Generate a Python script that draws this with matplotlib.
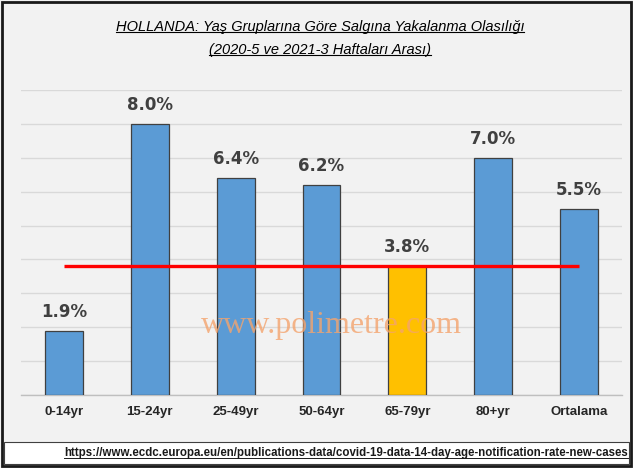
import matplotlib
matplotlib.use("Agg")
import matplotlib.pyplot as plt
from matplotlib.patches import Rectangle
from matplotlib.lines import Line2D

categories = ["0-14yr", "15-24yr", "25-49yr", "50-64yr", "65-79yr", "80+yr", "Ortalama"]
values = [1.9, 8.0, 6.4, 6.2, 3.8, 7.0, 5.5]
labels = ["1.9%", "8.0%", "6.4%", "6.2%", "3.8%", "7.0%", "5.5%"]
ref_line = 3.8
highlight = "65-79yr"

title1 = "HOLLANDA: Yaş Gruplarına Göre Salgına Yakalanma Olasılığı"
title2 = "(2020-5 ve 2021-3 Haftaları Arası)"
source = "https://www.ecdc.europa.eu/en/publications-data/covid-19-data-14-day-age-notification-rate-new-cases"
watermark = "www.polimetre.com"

W, H = 633, 468
fig = plt.figure(figsize=(W / 100, H / 100), dpi=100)
fig.patch.set_facecolor("#f2f2f2")

ax = fig.add_axes([21 / W, (H - 395) / H, (622 - 21) / W, (395 - 90) / H])
ax.set_facecolor("#f2f2f2")
x = list(range(len(categories)))
colors = ["#ffc000" if c == highlight else "#5b9bd5" for c in categories]
ax.bar(x, values, width=0.44, color=colors, edgecolor="#404040", linewidth=0.9, zorder=3)
ax.set_xlim(-0.5, len(categories) - 0.5)
ax.set_ylim(0, 9)
ax.set_yticks(range(0, 10))
ax.yaxis.grid(True, color="#d9d9d9", linewidth=1.0, zorder=0)
ax.tick_params(axis="y", left=False, labelleft=False)
ax.tick_params(axis="x", length=0, pad=8)
ax.set_xticks(x)
ax.set_xticklabels(categories, fontsize=9.5, fontweight="bold", color="#262626", family="Liberation Sans")
for s in ["left", "right", "top"]:
    ax.spines[s].set_visible(False)
ax.spines["bottom"].set_color("#bfbfbf")
ax.spines["bottom"].set_linewidth(1.0)

for xi, v, lab in zip(x, values, labels):
    ax.annotate(lab, (xi, v), xytext=(0, 7), textcoords="offset points", ha="center", va="bottom",
                fontsize=12, fontweight="bold", color="#404040", zorder=5)

ax.plot([x[0], x[-1]], [ref_line, ref_line], color="#ff0000", linewidth=2.4, zorder=4, solid_capstyle="butt")

fig.text(331 / W, 1 - 325 / H, watermark, ha="center", va="center", fontsize=23,
         family="Liberation Serif", color="#f4a46e", alpha=0.8, zorder=10)

# title
t1 = fig.text(320 / W, 1 - 27 / H, title1, ha="center", va="center", fontsize=10.5, style="italic",
              family="Liberation Sans", color="#000000")
t2 = fig.text(320 / W, 1 - 50 / H, title2, ha="center", va="center", fontsize=10.5, style="italic",
              family="Liberation Sans", color="#000000")

# footer box
fig.patches.append(Rectangle((4 / W, 4 / H), (629 - 4) / W, 22 / H, transform=fig.transFigure,
                             facecolor="white", edgecolor="#404040", linewidth=0.8, zorder=1))
t3 = fig.text(628 / W, 1 - 453 / H, source, ha="right", va="center", fontsize=8.3, fontweight="bold",
              family="Liberation Sans", color="#1a1a1a")

# outer border
fig.patches.append(Rectangle((2 / W, 2 / H), (W - 4) / W, (H - 4) / H, transform=fig.transFigure,
                             facecolor="none", edgecolor="#1a1a1a", linewidth=2.0, zorder=20))

fig.canvas.draw()
r = fig.canvas.get_renderer()
inv = fig.transFigure.inverted()
for t, c, lw in [(t1, "#000000", 0.8), (t2, "#000000", 0.8), (t3, "#1a1a1a", 0.7)]:
    bb = t.get_window_extent(r)
    (x0, y0), (x1, y1) = inv.transform([[bb.x0, bb.y0], [bb.x1, bb.y1]])
    yy = y0 + 1.5 / H
    fig.lines.append(Line2D([x0, x1], [yy, yy], transform=fig.transFigure, color=c, linewidth=lw))

fig.savefig("out.png", dpi=100, facecolor=fig.get_facecolor())
